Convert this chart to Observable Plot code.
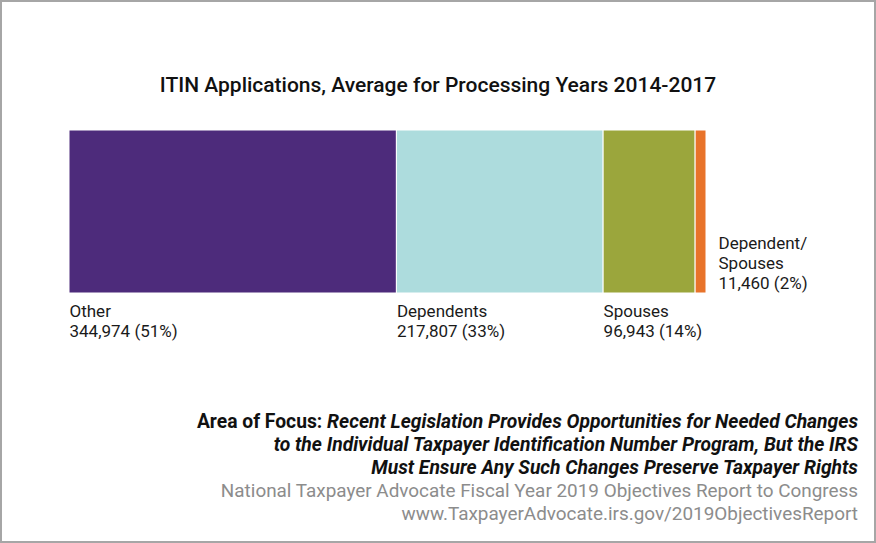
<!DOCTYPE html>
<html>
<head>
<meta charset="utf-8">
<script src="https://cdn.jsdelivr.net/npm/d3@7"></script>
<script src="https://cdn.jsdelivr.net/npm/@observablehq/plot@0.6"></script>
<style>
  html, body { margin: 0; padding: 0; background: #fff; }
  body { width: 876px; height: 543px; position: relative; overflow: hidden;
         font-family: "Roboto", "Liberation Sans", sans-serif; }
  #frame { position: absolute; left: 0; top: 0; width: 876px; height: 543px; box-sizing: border-box;
           border: 2px solid #a6a6a6; pointer-events: none; }
  #title { position: absolute; left: 0; width: 876px; top: 72px; text-align: center;
           font-size: 21px; font-weight: 500; color: #111; line-height: 26px; }
  #chart { position: absolute; left: 0; top: 110px; }
  #caption { position: absolute; right: 18px; top: 410px; text-align: right; line-height: 23px; }
  #caption .focus { color: #111; font-weight: bold; font-size: 19.3px; }
  #caption .focus i { font-style: italic; }
  #caption .src { color: #8c8c8c; font-size: 18.9px; }
</style>
</head>
<body>
<div id="title">ITIN Applications, Average for Processing Years 2014-2017</div>
<div id="chart"></div>
<div id="caption">
  <div class="focus">Area of Focus: <i>Recent Legislation Provides Opportunities for Needed Changes</i></div>
  <div class="focus"><i>to the Individual Taxpayer Identification Number Program, But the IRS</i></div>
  <div class="focus"><i>Must Ensure Any Such Changes Preserve Taxpayer Rights</i></div>
  <div class="src">National Taxpayer Advocate Fiscal Year 2019 Objectives Report to Congress</div>
  <div class="src">www.TaxpayerAdvocate.irs.gov/2019ObjectivesReport</div>
</div>
<div id="frame"></div>
<script>
const categories = ["Other", "Dependents", "Spouses", "Dependent/\nSpouses"];
const values = [344974, 217807, 96943, 11460];
const percents = [51, 33, 14, 2];
const colors = ["#4d2b7b", "#addcdd", "#9ba63c", "#e8732a"];

const ends = d3.cumsum(values);
const total = ends[ends.length - 1];
const rows = categories.map((name, i) => ({
  name,
  value: values[i],
  x1: ends[i] - values[i],
  x2: ends[i],
  label: name + "\n" + d3.format(",")(values[i]) + " (" + percents[i] + "%)",
  outside: i === categories.length - 1
}));

const chart = Plot.plot({
  width: 876,
  height: 250,
  marginLeft: 69,
  marginRight: 170,
  marginTop: 20,
  marginBottom: 67,
  style: { fontFamily: "Roboto, 'Liberation Sans', sans-serif", background: "transparent" },
  x: { domain: [0, total], axis: null },
  color: { domain: categories, range: colors },
  marks: [
    Plot.barX(rows, { x1: "x1", x2: "x2", fill: "name", stroke: "white", strokeWidth: 1 }),
    Plot.text(rows.filter(d => !d.outside), {
      x: "x1", text: "label", frameAnchor: "bottom", textAnchor: "start", lineAnchor: "top",
      dy: 10, fontSize: 17, lineHeight: 1.15, fill: "#1a1a1a"
    }),
    Plot.text(rows.filter(d => d.outside), {
      x: "x2", text: "label", frameAnchor: "bottom", textAnchor: "start", lineAnchor: "bottom",
      dx: 12, dy: -5, fontSize: 17, lineHeight: 1.15, fill: "#1a1a1a"
    })
  ]
});
document.getElementById("chart").appendChild(chart);
</script>
</body>
</html>
